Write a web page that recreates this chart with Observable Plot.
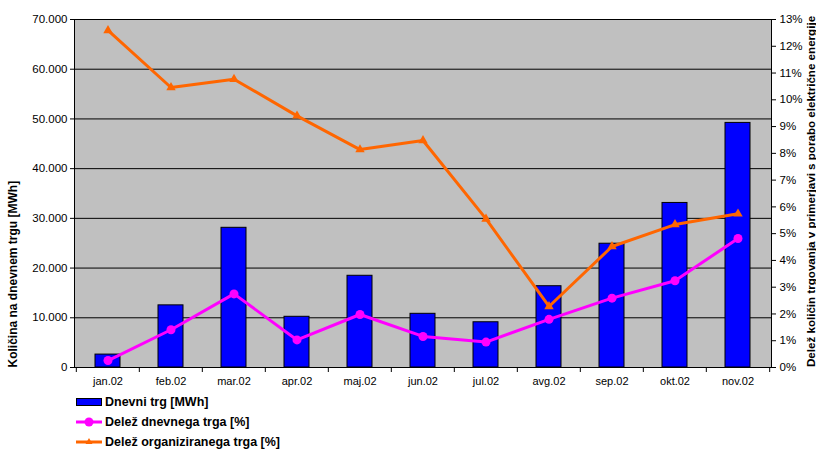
<!DOCTYPE html>
<html><head><meta charset="utf-8">
<script src="https://cdn.jsdelivr.net/npm/d3@7"></script>
<script src="https://cdn.jsdelivr.net/npm/@observablehq/plot@0.6"></script>
<style>
body{margin:0;background:#fff;font-family:"Liberation Sans",Arial,sans-serif;}
#legend{position:relative;height:57px;width:816px;}
.item{position:absolute;left:76px;display:flex;align-items:center;font-weight:bold;font-size:12.5px;color:#000;height:14px;}
.item svg{margin-right:3px;}
</style></head><body>
<div id="chart"></div>
<div id="legend"></div>
<script>
const months = ["jan.02","feb.02","mar.02","apr.02","maj.02","jun.02","jul.02","avg.02","sep.02","okt.02","nov.02"];
const dnevniTrg = [2600,12500,28100,10200,18450,10800,9100,16350,24900,33100,49200];
const delezDnevnega = [0.26,1.41,2.75,1.03,1.98,1.16,0.95,1.80,2.59,3.24,4.82];
const delezOrganiziranega = [12.59,10.46,10.77,9.40,8.14,8.48,5.55,2.28,4.52,5.34,5.74];
const leftTicks = [0,10000,20000,30000,40000,50000,60000,70000];
const rightTicks = [0,1,2,3,4,5,6,7,8,9,10,11,12,13];
const seriesNames = ["Dnevni trg [MWh]","Delež dnevnega trga [%]","Delež organiziranega trga [%]"];
const leftTitle = "Količina na dnevnem trgu [MWh]";
const rightTitle = "Delež količin trgovanja v primerjavi s porabo električne energije";

const F = 70000 / 13; // percent -> left-axis units
const rows = months.map((m,i)=>({month:m, mwh:dnevniTrg[i], dn:delezDnevnega[i], org:delezOrganiziranega[i]}));

const W = 816, mL = 74, mR = 45;
const bw = (W - mL - mR) / months.length;
const fmt = d => d3.format(",.0f")(d).replace(/,/g, ".");

const chart = Plot.plot({
  width: W, height: 392,
  marginLeft: mL, marginRight: mR, marginTop: 19, marginBottom: 25,
  style: {fontFamily: '"Liberation Sans", Arial, sans-serif', fontSize: "11px", color: "#000", background: "#fff"},
  x: {type: "band", domain: months, padding: 0, label: null},
  y: {domain: [0, 70000], label: null},
  marks: [
    Plot.frame({fill: "#c0c0c0", stroke: "#808080"}),
    Plot.gridY(leftTicks, {stroke: "#000", strokeOpacity: 1}),
    Plot.frame({anchor: "left", stroke: "#000"}),
    Plot.frame({anchor: "right", stroke: "#000"}),
    Plot.frame({anchor: "bottom", stroke: "#000"}),
    Plot.barY(rows, {x: "month", y: "mwh", fill: "#0000ff", stroke: "#000", strokeWidth: 1, insetLeft: 19, insetRight: 19}),
    Plot.lineY(rows, {x: "month", y: d => d.org * F, stroke: "#ff6600", strokeWidth: 3}),
    Plot.dot(rows, {x: "month", y: d => d.org * F, symbol: "triangle", r: 3.5, fill: "#ff6600"}),
    Plot.lineY(rows, {x: "month", y: d => d.dn * F, stroke: "#ff00ff", strokeWidth: 3}),
    Plot.dot(rows, {x: "month", y: d => d.dn * F, r: 4.5, fill: "#ff00ff"}),
    Plot.axisY(leftTicks, {anchor: "left", tickSize: 4, tickPadding: 3, tickFormat: fmt, label: null, fontSize: 11.5}),
    Plot.axisY(rightTicks.map(k => k * F), {anchor: "right", tickSize: 4, tickPadding: 4, tickFormat: d => Math.round(d / F) + "%", label: null, fontSize: 11.5}),
    Plot.axisX({anchor: "bottom", tickSize: 0, tickPadding: 10, label: null}),
    Plot.axisX(months, {anchor: "bottom", tickSize: 5, tickFormat: () => "", dx: -bw / 2, label: null}),
    Plot.axisX([months[months.length - 1]], {anchor: "bottom", tickSize: 5, tickFormat: () => "", dx: bw / 2, label: null}),
    Plot.text([leftTitle], {frameAnchor: "bottom-left", rotate: -90, textAnchor: "start", dx: -58, fontWeight: "bold", fontSize: 12, fill: "#000"}),
    Plot.text([rightTitle], {frameAnchor: "right", rotate: -90, textAnchor: "middle", dx: 40, dy: -2, fontWeight: "bold", fontSize: 11.6, fill: "#000"})
  ]
});
document.getElementById("chart").appendChild(chart);

// legend
const legend = document.getElementById("legend");
const swatches = [
  `<svg width="26" height="10"><rect x="0.5" y="1.5" width="25" height="7" fill="#0000ff" stroke="#000"/></svg>`,
  `<svg width="26" height="10"><line x1="0" x2="26" y1="5" y2="5" stroke="#ff00ff" stroke-width="3"/><circle cx="13" cy="5" r="4.5" fill="#ff00ff"/></svg>`,
  `<svg width="26" height="10"><line x1="0" x2="26" y1="5" y2="5" stroke="#ff6600" stroke-width="3"/><path d="M13,1 L16.5,7 L9.5,7 Z" fill="#ff6600"/></svg>`
];
const tops = [3, 23, 43];
seriesNames.forEach((name, i) => {
  const div = document.createElement("div");
  div.className = "item";
  div.style.top = tops[i] + "px";
  div.innerHTML = swatches[i] + `<span>${name}</span>`;
  legend.appendChild(div);
});
</script>
</body></html>
